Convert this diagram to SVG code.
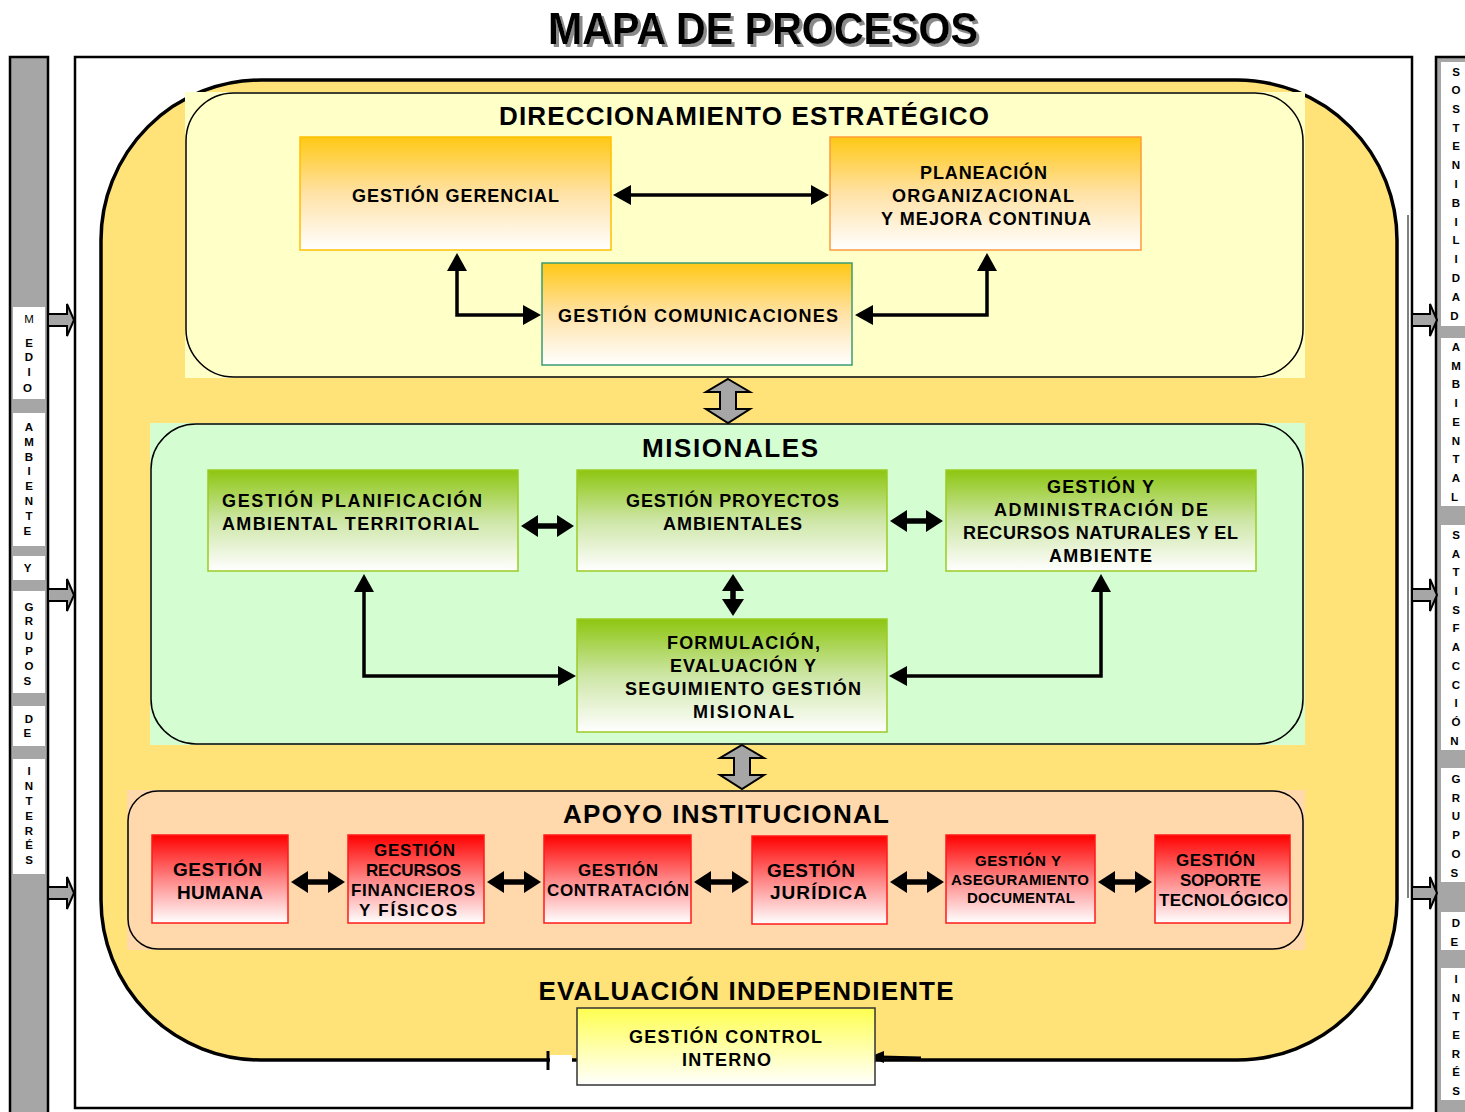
<svg xmlns="http://www.w3.org/2000/svg" width="1465" height="1112" viewBox="0 0 1465 1112">
<defs>
<linearGradient id="gGold" x1="0" y1="0" x2="0" y2="1"><stop offset="0" stop-color="#FFC814"/><stop offset="0.5" stop-color="#FFE2A6"/><stop offset="1" stop-color="#FFFFFF"/></linearGradient>
<linearGradient id="gGreen" x1="0" y1="0" x2="0" y2="1"><stop offset="0" stop-color="#8DC610"/><stop offset="0.5" stop-color="#CDE6A6"/><stop offset="1" stop-color="#FFFFFF"/></linearGradient>
<linearGradient id="gRed" x1="0" y1="0" x2="0" y2="1"><stop offset="0" stop-color="#FF0000"/><stop offset="0.5" stop-color="#FF8585"/><stop offset="1" stop-color="#FFFFFF"/></linearGradient>
<linearGradient id="gYel" x1="0" y1="0" x2="0" y2="1"><stop offset="0" stop-color="#FFFF50"/><stop offset="1" stop-color="#FFFFFF"/></linearGradient>
<filter id="shadow" x="-5%" y="-20%" width="110%" height="150%"><feDropShadow dx="3" dy="3" stdDeviation="0.6" flood-color="#8a8a8a" flood-opacity="1"/></filter>
<marker id="ah" markerUnits="userSpaceOnUse" markerWidth="18" markerHeight="20" refX="1" refY="10" orient="auto-start-reverse" viewBox="0 0 18 20"><path d="M0,0 L18,10 L0,20 z" fill="#000"/></marker>
<marker id="ahb" markerUnits="userSpaceOnUse" markerWidth="17" markerHeight="22" refX="1" refY="11" orient="auto-start-reverse" viewBox="0 0 17 22"><path d="M0,0 L17,11 L0,22 z" fill="#000"/></marker>
</defs>
<style>
text{font-family:"Liberation Sans",Arial,sans-serif;font-weight:bold;fill:#000}
.n{font-size:18px;text-anchor:middle}
.st{font-size:26px;text-anchor:middle}
.side{font-size:11.5px;text-anchor:middle}
.c{fill:none;stroke:#000;stroke-width:3.5}
.cb{fill:none;stroke:#000;stroke-width:5.5}
.blk{fill:#A6A6A6;stroke:#000;stroke-width:2}
.sec{fill:none;stroke:#000;stroke-width:1.5}
</style>

<!-- Title -->
<g id="title">
<text x="763" y="44" font-size="45" text-anchor="middle" textLength="430" lengthAdjust="spacingAndGlyphs" filter="url(#shadow)">MAPA DE PROCESOS</text>
</g>

<!-- Outer frame -->
<rect x="75" y="57" width="1337" height="1051" fill="#fff" stroke="#000" stroke-width="2.5"/>
<line x1="1408" y1="215" x2="1408" y2="898" stroke="#000" stroke-width="1"/>

<!-- Left bar -->
<g id="left-bar">
<rect x="10" y="57" width="38" height="1060" fill="#A6A6A6" stroke="#000" stroke-width="2.5"/>
<g fill="#fff">
<rect x="13" y="307" width="32" height="92"/>
<rect x="13" y="413" width="32" height="133"/>
<rect x="13" y="556" width="32" height="24"/>
<rect x="13" y="591" width="32" height="102"/>
<rect x="13" y="706" width="32" height="40"/>
<rect x="13" y="759" width="32" height="115"/>
</g>
<text class="side" style="font-weight:normal"><tspan x="29" y="323">M</tspan></text>
<text class="side">
<tspan x="29" y="347">E</tspan><tspan x="29" y="361">D</tspan><tspan x="29" y="376">I</tspan><tspan x="29" y="392">O</tspan>
<tspan x="29" y="431">A</tspan><tspan x="29" y="446">M</tspan><tspan x="29" y="461">B</tspan><tspan x="29" y="475">I</tspan><tspan x="29" y="490">E</tspan><tspan x="29" y="505">N</tspan><tspan x="29" y="520">T</tspan><tspan x="29" y="535">E</tspan>
<tspan x="29" y="572">Y</tspan>
<tspan x="29" y="611">G</tspan><tspan x="29" y="625">R</tspan><tspan x="29" y="640">U</tspan><tspan x="29" y="655">P</tspan><tspan x="29" y="670">O</tspan><tspan x="29" y="685">S</tspan>
<tspan x="29" y="723">D</tspan><tspan x="29" y="737">E</tspan>
<tspan x="29" y="775">I</tspan><tspan x="29" y="790">N</tspan><tspan x="29" y="805">T</tspan><tspan x="29" y="820">E</tspan><tspan x="29" y="835">R</tspan><tspan x="29" y="849">É</tspan><tspan x="29" y="864">S</tspan>
</text>
</g>

<!-- Right bar -->
<g id="right-bar">
<rect x="1436" y="57" width="40" height="1060" fill="#A6A6A6" stroke="#000" stroke-width="2.5"/>
<g fill="#fff">
<rect x="1441" y="62" width="26" height="264"/>
<rect x="1441" y="338" width="26" height="168"/>
<rect x="1441" y="525" width="26" height="225"/>
<rect x="1441" y="768" width="26" height="114"/>
<rect x="1441" y="912" width="26" height="38"/>
<rect x="1441" y="968" width="26" height="132"/>
</g>
<text class="side">
<tspan x="1456" y="76">S</tspan><tspan x="1456" y="94">O</tspan><tspan x="1456" y="113">S</tspan><tspan x="1456" y="132">T</tspan><tspan x="1456" y="150">E</tspan><tspan x="1456" y="169">N</tspan><tspan x="1456" y="188">I</tspan><tspan x="1456" y="207">B</tspan><tspan x="1456" y="226">I</tspan><tspan x="1456" y="244">L</tspan><tspan x="1456" y="263">I</tspan><tspan x="1456" y="282">D</tspan><tspan x="1456" y="301">A</tspan><tspan x="1456" y="320">D</tspan>
<tspan x="1456" y="351">A</tspan><tspan x="1456" y="370">M</tspan><tspan x="1456" y="388">B</tspan><tspan x="1456" y="407">I</tspan><tspan x="1456" y="426">E</tspan><tspan x="1456" y="445">N</tspan><tspan x="1456" y="463">T</tspan><tspan x="1456" y="482">A</tspan><tspan x="1456" y="501">L</tspan>
<tspan x="1456" y="539">S</tspan><tspan x="1456" y="558">A</tspan><tspan x="1456" y="576">T</tspan><tspan x="1456" y="595">I</tspan><tspan x="1456" y="614">S</tspan><tspan x="1456" y="632">F</tspan><tspan x="1456" y="651">A</tspan><tspan x="1456" y="670">C</tspan><tspan x="1456" y="689">C</tspan><tspan x="1456" y="707">I</tspan><tspan x="1456" y="726">Ó</tspan><tspan x="1456" y="745">N</tspan>
<tspan x="1456" y="783">G</tspan><tspan x="1456" y="802">R</tspan><tspan x="1456" y="820">U</tspan><tspan x="1456" y="839">P</tspan><tspan x="1456" y="858">O</tspan><tspan x="1456" y="877">S</tspan>
<tspan x="1456" y="927">D</tspan><tspan x="1456" y="946">E</tspan>
<tspan x="1456" y="983">I</tspan><tspan x="1456" y="1002">N</tspan><tspan x="1456" y="1020">T</tspan><tspan x="1456" y="1039">E</tspan><tspan x="1456" y="1058">R</tspan><tspan x="1456" y="1076">É</tspan><tspan x="1456" y="1095">S</tspan>
</text>
</g>

<!-- Side arrows -->
<g id="side-arrows">
<path class="blk" d="M48,314 H67 V304 L74,320 L67,336 V326 H48 Z"/>
<path class="blk" d="M48,589 H67 V579 L74,595 L67,611 V601 H48 Z"/>
<path class="blk" d="M48,887 H67 V877 L74,893 L67,909 V899 H48 Z"/>
<path class="blk" d="M1412,314 H1430 V304 L1437,320 L1430,336 V326 H1412 Z"/>
<path class="blk" d="M1412,589 H1430 V579 L1437,595 L1430,611 V601 H1412 Z"/>
<path class="blk" d="M1412,887 H1430 V877 L1437,893 L1430,909 V899 H1412 Z"/>
</g>

<!-- Big yellow region -->
<rect id="yellow-region" x="101" y="80" width="1296" height="980" rx="160" ry="160" fill="#FFE278" stroke="#000" stroke-width="3.5"/>

<!-- Section: Direccionamiento -->
<g id="sec-direccionamiento">
<rect x="185" y="92" width="1120" height="286" fill="#FFFFC8"/>
<rect class="sec" x="186" y="93" width="1117" height="284" rx="48" ry="48"/>
<text class="st" x="744" y="125" textLength="490">DIRECCIONAMIENTO ESTRATÉGICO</text>
</g>

<!-- Section: Misionales -->
<g id="sec-misionales">
<rect x="150" y="423" width="1155" height="322" fill="#D4FED2"/>
<rect class="sec" x="151" y="424" width="1152" height="320" rx="45" ry="45"/>
<text class="st" x="730" y="457" textLength="176">MISIONALES</text>
</g>

<!-- Section: Apoyo -->
<g id="sec-apoyo">
<rect x="127" y="790" width="1178" height="160" fill="#FFD8AC"/>
<rect class="sec" x="128" y="791" width="1175" height="158" rx="30" ry="30"/>
<text class="st" x="726" y="823" textLength="326">APOYO INSTITUCIONAL</text>
</g>

<text id="t-evaluacion" class="st" x="746" y="1000" textLength="415">EVALUACIÓN INDEPENDIENTE</text>

<!-- Bottom detail of yellow border -->
<g id="bottom-detail">
<rect x="550" y="1055" width="22" height="8" fill="#fff"/>
<line x1="548" y1="1051" x2="548" y2="1070" stroke="#000" stroke-width="3"/>
<line x1="880" y1="1057" x2="921" y2="1058" stroke="#000" stroke-width="3"/>
<path d="M869,1057 L884,1051 L884,1063 Z" fill="#000"/>
</g>

<!-- Top nodes -->
<g id="n-gerencial">
<rect x="300" y="137" width="311" height="113" fill="url(#gGold)" stroke="#FFC000" stroke-width="1.5"/>
<text class="n" x="455.5" y="201.5" textLength="207">GESTIÓN GERENCIAL</text>
</g>
<g id="n-planeacion">
<rect x="830" y="137" width="311" height="113" fill="url(#gGold)" stroke="#FF9A3A" stroke-width="1.5"/>
<text class="n" x="983.5" y="178.5" textLength="127">PLANEACIÓN</text>
<text class="n" x="983" y="201.5" textLength="182">ORGANIZACIONAL</text>
<text class="n" x="986" y="224.5" textLength="210">Y MEJORA CONTINUA</text>
</g>
<g id="n-comunicaciones">
<rect x="542" y="263" width="310" height="102" fill="url(#gGold)" stroke="#3A9C74" stroke-width="1.5"/>
<text class="n" x="698" y="321.5" textLength="280">GESTIÓN COMUNICACIONES</text>
</g>

<!-- Misionales nodes -->
<g id="n-planificacion">
<rect x="208" y="470" width="310" height="101" fill="url(#gGreen)" stroke="#9ACB25" stroke-width="1.5"/>
<text x="222" y="506.5" font-size="18" textLength="260">GESTIÓN  PLANIFICACIÓN</text>
<text x="222" y="529.5" font-size="18" textLength="257">AMBIENTAL TERRITORIAL</text>
</g>
<g id="n-proyectos">
<rect x="577" y="470" width="310" height="101" fill="url(#gGreen)" stroke="#9ACB25" stroke-width="1.5"/>
<text class="n" x="732.5" y="506.5" textLength="213">GESTIÓN PROYECTOS</text>
<text class="n" x="732.5" y="529.5" textLength="139">AMBIENTALES</text>
</g>
<g id="n-recursos-naturales">
<rect x="946" y="470" width="310" height="101" fill="url(#gGreen)" stroke="#9ACB25" stroke-width="1.5"/>
<text class="n" x="1100.5" y="492.5" textLength="107">GESTIÓN Y</text>
<text class="n" x="1101" y="515.5" textLength="214">ADMINISTRACIÓN DE</text>
<text class="n" x="1100.5" y="538.5" textLength="275">RECURSOS NATURALES Y EL</text>
<text class="n" x="1100.5" y="561.5" textLength="103">AMBIENTE</text>
</g>
<g id="n-formulacion">
<rect x="577" y="619" width="310" height="113" fill="url(#gGreen)" stroke="#9ACB25" stroke-width="1.5"/>
<text class="n" x="743.5" y="648.5" textLength="153">FORMULACIÓN,</text>
<text class="n" x="743" y="671.5" textLength="146">EVALUACIÓN Y</text>
<text class="n" x="743" y="694.5" textLength="236">SEGUIMIENTO GESTIÓN</text>
<text class="n" x="743.5" y="717.5" textLength="101">MISIONAL</text>
</g>

<!-- Apoyo nodes -->
<g id="n-humana">
<rect x="152" y="835" width="136" height="88" fill="url(#gRed)" stroke="#FF1A1A" stroke-width="1.5"/>
<text x="217.5" y="876" font-size="19" text-anchor="middle" textLength="89">GESTIÓN</text>
<text x="220" y="899" font-size="19" text-anchor="middle" textLength="86">HUMANA</text>
</g>
<g id="n-financieros">
<rect x="348" y="835" width="136" height="88" fill="url(#gRed)" stroke="#FF1A1A" stroke-width="1.5"/>
<text x="414.5" y="856" font-size="17" text-anchor="middle" textLength="81">GESTIÓN</text>
<text x="413.5" y="876" font-size="17" text-anchor="middle" textLength="95">RECURSOS</text>
<text x="413" y="896" font-size="17" text-anchor="middle" textLength="124">FINANCIEROS</text>
<text x="408" y="916" font-size="17" text-anchor="middle" textLength="98">Y FÍSICOS</text>
</g>
<g id="n-contratacion">
<rect x="544" y="835" width="147" height="88" fill="url(#gRed)" stroke="#FF1A1A" stroke-width="1.5"/>
<text x="618" y="876" font-size="17" text-anchor="middle" textLength="80">GESTIÓN</text>
<text x="618" y="896" font-size="17" text-anchor="middle" textLength="142">CONTRATACIÓN</text>
</g>
<g id="n-juridica">
<rect x="752" y="836" width="135" height="88" fill="url(#gRed)" stroke="#FF1A1A" stroke-width="1.5"/>
<text x="811" y="877" font-size="19" text-anchor="middle" textLength="88">GESTIÓN</text>
<text x="818.5" y="899" font-size="19" text-anchor="middle" textLength="97">JURÍDICA</text>
</g>
<g id="n-documental">
<rect x="946" y="835" width="149" height="88" fill="url(#gRed)" stroke="#FF1A1A" stroke-width="1.5"/>
<text x="1018" y="866" font-size="15" text-anchor="middle" textLength="86">GESTIÓN Y</text>
<text x="1020" y="885" font-size="15" text-anchor="middle" textLength="138">ASEGURAMIENTO</text>
<text x="1021" y="903" font-size="15" text-anchor="middle" textLength="108">DOCUMENTAL</text>
</g>
<g id="n-tecnologico">
<rect x="1155" y="835" width="135" height="88" fill="url(#gRed)" stroke="#FF1A1A" stroke-width="1.5"/>
<text x="1215.5" y="866" font-size="17" text-anchor="middle" textLength="79">GESTIÓN</text>
<text x="1220.5" y="886" font-size="17" text-anchor="middle" textLength="81">SOPORTE</text>
<text x="1223.5" y="906" font-size="17" text-anchor="middle" textLength="129">TECNOLÓGICO</text>
</g>

<!-- Control interno -->
<g id="n-control">
<rect x="577" y="1008" width="298" height="77" fill="url(#gYel)" stroke="#333" stroke-width="1.5"/>
<text class="n" x="725.5" y="1042.5" textLength="193">GESTIÓN  CONTROL</text>
<text class="n" x="726.5" y="1065.5" textLength="89">INTERNO</text>
</g>

<!-- Connectors -->
<g id="connectors">
<polyline class="c" points="630,195 812,195" marker-start="url(#ah)" marker-end="url(#ah)"/>
<polyline class="c" points="457,270 457,315 524,315" marker-start="url(#ah)" marker-end="url(#ah)"/>
<polyline class="c" points="987,270 987,315 872,315" marker-start="url(#ah)" marker-end="url(#ah)"/>
<polyline class="c" points="364,591 364,676 559,676" marker-start="url(#ah)" marker-end="url(#ah)"/>
<polyline class="c" points="1101,591 1101,676 906,676" marker-start="url(#ah)" marker-end="url(#ah)"/>
<polyline class="cb" points="537,526 558,526" marker-start="url(#ahb)" marker-end="url(#ahb)"/>
<polyline class="cb" points="906,521 927,521" marker-start="url(#ahb)" marker-end="url(#ahb)"/>
<polyline class="cb" points="733,590 733,600" marker-start="url(#ahb)" marker-end="url(#ahb)"/>
<polyline class="cb" points="307,882 329,882" marker-start="url(#ahb)" marker-end="url(#ahb)"/>
<polyline class="cb" points="503,882 525,882" marker-start="url(#ahb)" marker-end="url(#ahb)"/>
<polyline class="cb" points="710,882 733,882" marker-start="url(#ahb)" marker-end="url(#ahb)"/>
<polyline class="cb" points="906,882 928,882" marker-start="url(#ahb)" marker-end="url(#ahb)"/>
<polyline class="cb" points="1114,882 1136,882" marker-start="url(#ahb)" marker-end="url(#ahb)"/>
<path class="blk" d="M728,379 L750,392 L736,392 L736,409 L750,409 L728,423 L706,409 L720,409 L720,392 L706,392 Z"/>
<path class="blk" d="M742,745 L764,758 L750,758 L750,775 L764,775 L742,789 L720,775 L734,775 L734,758 L720,758 Z"/>
</g>
</svg>
